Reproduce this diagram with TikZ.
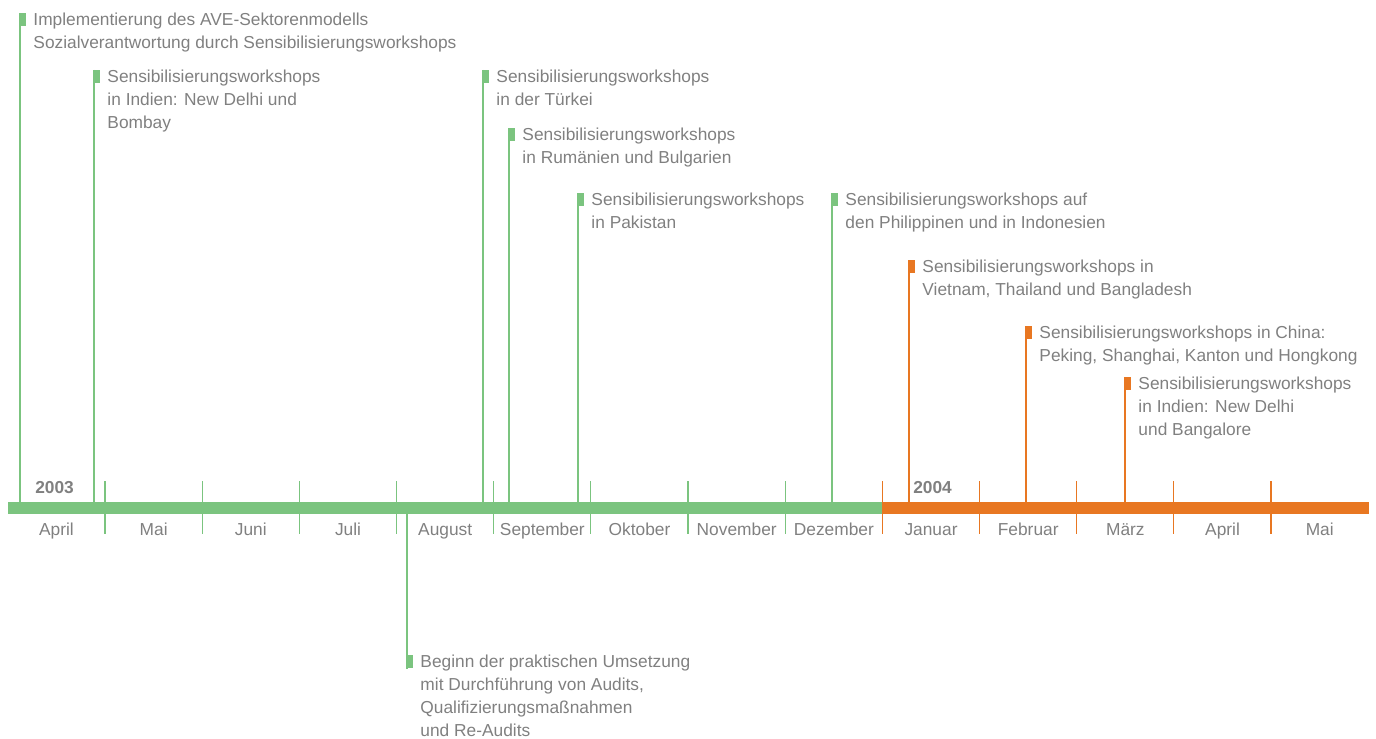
\documentclass[tikz,border=0pt]{standalone}
\usepackage{fontspec}
\setmainfont{Liberation Sans}
\usetikzlibrary{positioning}
\definecolor{avegreen}{RGB}{123,196,127}
\definecolor{aveorange}{RGB}{232,119,34}
\definecolor{avegray}{RGB}{128,128,128}

\begin{document}
\begin{tikzpicture}[
      x=0.75pt, y=-0.75pt,
      every node/.style = {font=\fontsize{13}{17.25}\selectfont, text=avegray, inner sep=0pt},
      marker/.style = {fill=#1, minimum width=4.5pt, minimum height=9.75pt, anchor=north west},
      evtext/.style = {align=left},
      stem/.style = {draw=#1, line width=0.9pt},
      monthtick/.style = {draw=#1, line width=0.9pt},
      monthlabel/.style = {anchor=base},
      yearlabel/.style = {font=\fontsize{13}{15}\selectfont\bfseries, anchor=base west}
    ]
    \useasboundingbox (0,0) rectangle (1376,738);
    % timeline bar
    \fill[avegreen]  (8,502)   rectangle (883,514);
    \fill[aveorange] (883,502) rectangle (1369,514);
    \coordinate (bartop) at (0,502);
    \coordinate (barbot) at (0,514);
    \foreach \i in {0,...,7}  \draw[monthtick=avegreen]  ({105+97.17*\i},481) -- ++(0,53);
    \foreach \i in {8,...,12} \draw[monthtick=aveorange] ({105+97.17*\i},481) -- ++(0,53);
    \foreach \m [count=\i from 0] in {April,Mai,Juni,Juli,August,September,Oktober,November,Dezember,Januar,Februar,März,April,Mai}
      \node[monthlabel] (month\i) at ({56.5+97.17*\i},535) {\m};
    \node[yearlabel] (y2003) at (35,493)  {2003};
    \node[yearlabel] (y2004) at (913,493) {2004};
    % events
    \node[marker=avegreen]  (mk1)  at (20,13)   {};
    \node[marker=avegreen]  (mk2)  at (94,70)   {};
    \node[marker=avegreen]  (mk3)  at (483,70)  {};
    \node[marker=avegreen]  (mk4)  at (509,128) {};
    \node[marker=avegreen]  (mk5)  at (578,193) {};
    \node[marker=avegreen]  (mk6)  at (832,193) {};
    \node[marker=aveorange] (mk7)  at (909,260) {};
    \node[marker=aveorange] (mk8)  at (1026,326) {};
    \node[marker=aveorange] (mk9)  at (1125,377) {};
    \node[marker=avegreen]  (mk10) at (407,655) {};
    \node[evtext, right=5pt of mk1.north east, anchor=north west] (ev1)
      {Implementierung des AVE-Sektorenmodells\\Sozialverantwortung durch Sensibilisierungsworkshops};
    \node[evtext, right=5pt of mk2.north east, anchor=north west] (ev2)
      {Sensibilisierungsworkshops\\in Indien: New Delhi und\\Bombay};
    \node[evtext, right=5pt of mk3.north east, anchor=north west] (ev3)
      {Sensibilisierungsworkshops\\in der Türkei};
    \node[evtext, right=5pt of mk4.north east, anchor=north west] (ev4)
      {Sensibilisierungsworkshops\\in Rumänien und Bulgarien};
    \node[evtext, right=5pt of mk5.north east, anchor=north west] (ev5)
      {Sensibilisierungsworkshops\\in Pakistan};
    \node[evtext, right=5pt of mk6.north east, anchor=north west] (ev6)
      {Sensibilisierungsworkshops auf\\den Philippinen und in Indonesien};
    \node[evtext, right=5pt of mk7.north east, anchor=north west] (ev7)
      {Sensibilisierungsworkshops in\\Vietnam, Thailand und Bangladesh};
    \node[evtext, right=5pt of mk8.north east, anchor=north west] (ev8)
      {Sensibilisierungsworkshops in China:\\Peking, Shanghai, Kanton und Hongkong};
    \node[evtext, right=5pt of mk9.north east, anchor=north west] (ev9)
      {Sensibilisierungsworkshops\\in Indien: New Delhi\\und Bangalore};
    \node[evtext, right=5pt of mk10.north east, anchor=north west] (ev10)
      {Beginn der praktischen Umsetzung\\mit Durchführung von Audits,\\Qualifizierungsmaßnahmen\\und Re-Audits};
    % stems
    \draw[stem=avegreen]  (mk1.north west) -- (mk1.north west |- bartop);
    \draw[stem=avegreen]  (mk2.north west) -- (mk2.north west |- bartop);
    \draw[stem=avegreen]  (mk3.north west) -- (mk3.north west |- bartop);
    \draw[stem=avegreen]  (mk4.north west) -- (mk4.north west |- bartop);
    \draw[stem=avegreen]  (mk5.north west) -- (mk5.north west |- bartop);
    \draw[stem=avegreen]  (mk6.north west) -- (mk6.north west |- bartop);
    \draw[stem=aveorange] (mk7.north west) -- (mk7.north west |- bartop);
    \draw[stem=aveorange] (mk8.north west) -- (mk8.north west |- bartop);
    \draw[stem=aveorange] (mk9.north west) -- (mk9.north west |- bartop);
    \draw[stem=avegreen]  (mk10.south west) -- (mk10.south west |- barbot);
  \end{tikzpicture}
\end{document}
